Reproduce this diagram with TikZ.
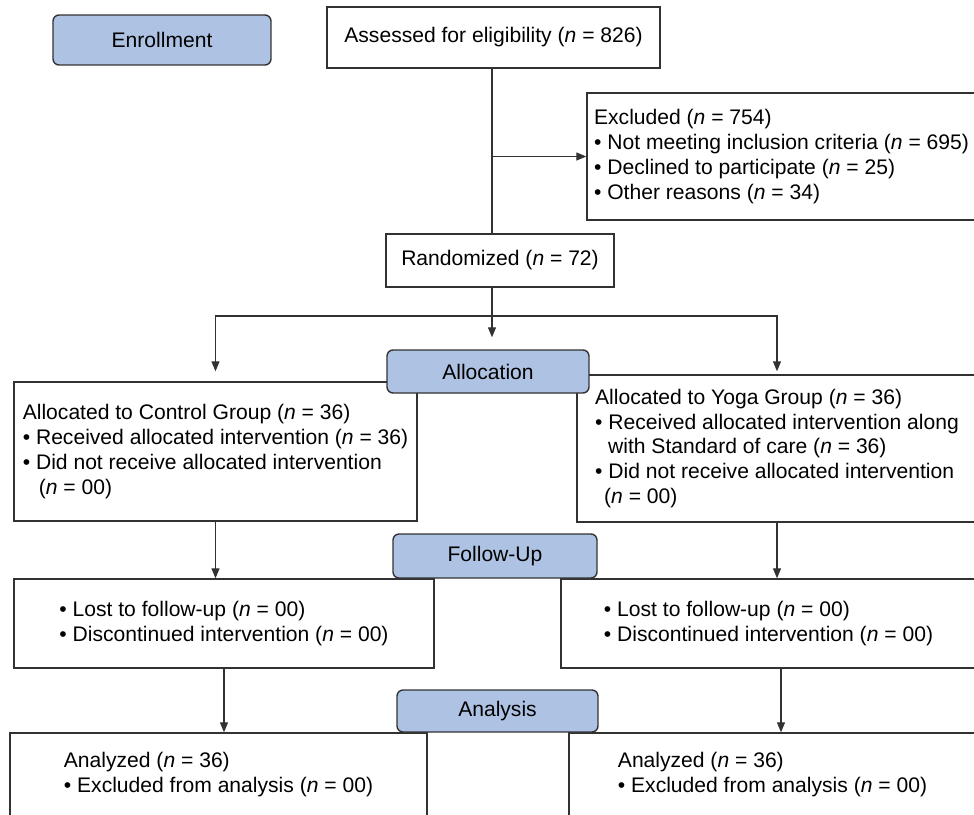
\documentclass[tikz,border=0pt]{standalone}
\usepackage{fontspec}
\setmainfont{Liberation Sans}
\usetikzlibrary{arrows.meta}
\definecolor{phase}{RGB}{174,195,227}
\definecolor{edge}{RGB}{50,50,50}
\begin{document}
\begin{tikzpicture}[x=0.02cm,y=-0.02cm,
	box/.style={draw=edge,line width=0.8pt,inner sep=0pt,align=left,font=\fontsize{12pt}{14.2pt}\selectfont},
	phasebox/.style={box,fill=phase,rounded corners=0.12cm,align=center},
	line/.style={draw=edge,line width=0.7pt},
	arr/.style={line,-{Triangle[length=0.2cm,width=0.16cm]}}]
			\clip (0,0) rectangle (974,815);
			\node[box,minimum width=6.66cm,minimum height=1.22cm] (assess) at (493.5,37.5){Assessed for eligibility (\textit{n} = 826)};
			\node[box,minimum width=7.78cm,minimum height=2.54cm] (excl) at (781.5,156.5){Excluded (\textit{n} = 754)\\• Not meeting inclusion criteria (\textit{n} = 695)\\• Declined to participate (\textit{n} = 25)\\• Other reasons (\textit{n} = 34)};
			\node[box,minimum width=4.56cm,minimum height=1.06cm] (rand) at (500,260.5){Randomized (\textit{n} = 72)};
			\node[box,minimum width=8.06cm,minimum height=2.78cm] (ctrl) at (215.5,451.5){Allocated to Control Group (\textit{n} = 36)\\• Received allocated intervention (\textit{n} = 36)\\• Did not receive allocated intervention\\\hspace*{0.32cm}(\textit{n} = 00)};
			\node[box,minimum width=8cm,minimum height=2.94cm] (yoga) at (777,448.5){Allocated to Yoga Group (\textit{n} = 36)\\• Received allocated intervention along\\\hspace*{0.26cm}with Standard of care (\textit{n} = 36)\\• Did not receive allocated intervention\\\hspace*{0.18cm}(\textit{n} = 00)};
			\node[box,minimum width=8.4cm,minimum height=1.78cm] (fuc) at (224,623.5){• Lost to follow-up (\textit{n} = 00)\\• Discontinued intervention (\textit{n} = 00)};
			\node[box,minimum width=8.3cm,minimum height=1.78cm] (fuy) at (768.5,623.5){• Lost to follow-up (\textit{n} = 00)\\• Discontinued intervention (\textit{n} = 00)};
			\node[box,minimum width=8.34cm,minimum height=1.68cm] (anc) at (218.5,775){Analyzed (\textit{n} = 36)\\• Excluded from analysis (\textit{n} = 00)};
			\node[box,minimum width=8.14cm,minimum height=1.68cm] (any) at (772.5,775){Analyzed (\textit{n} = 36)\\• Excluded from analysis (\textit{n} = 00)};
			\node[phasebox,minimum width=4.36cm,minimum height=1cm] (enrol) at (162,40){Enrollment};
			\node[phasebox,minimum width=4.04cm,minimum height=0.86cm] (alloc) at (488,371.5){Allocation};
			\node[phasebox,minimum width=4.08cm,minimum height=0.88cm] (fup) at (495,556){Follow-Up};
			\node[phasebox,minimum width=4.02cm,minimum height=0.84cm] (anl) at (497.5,711){Analysis};
			\coordinate (br) at (492,316);
			\coordinate (fr) at ([xshift=0.25cm]fuy.south);
			\draw[line] (assess.south -| br) to (rand.north -| br);
			\draw[arr] (br |- excl.west) to (excl.west);
			\draw[line] (rand.south -| br) to (br);
			\draw[arr,shorten >=0.24cm] (br) to (br |- alloc.north);
			\draw[arr,shorten >=0.2cm] (br) -| (ctrl.north);
			\draw[arr,shorten >=0.06cm] (br) -| (yoga.north);
			\draw[arr] (ctrl.south) to (ctrl.south |- fuc.north);
			\draw[arr] (yoga.south) to (yoga.south |- fuy.north);
			\draw[arr] (fuc.south) to (fuc.south |- anc.north);
			\draw[arr] (fr) to (fr |- any.north);
		\end{tikzpicture}
\end{document}
